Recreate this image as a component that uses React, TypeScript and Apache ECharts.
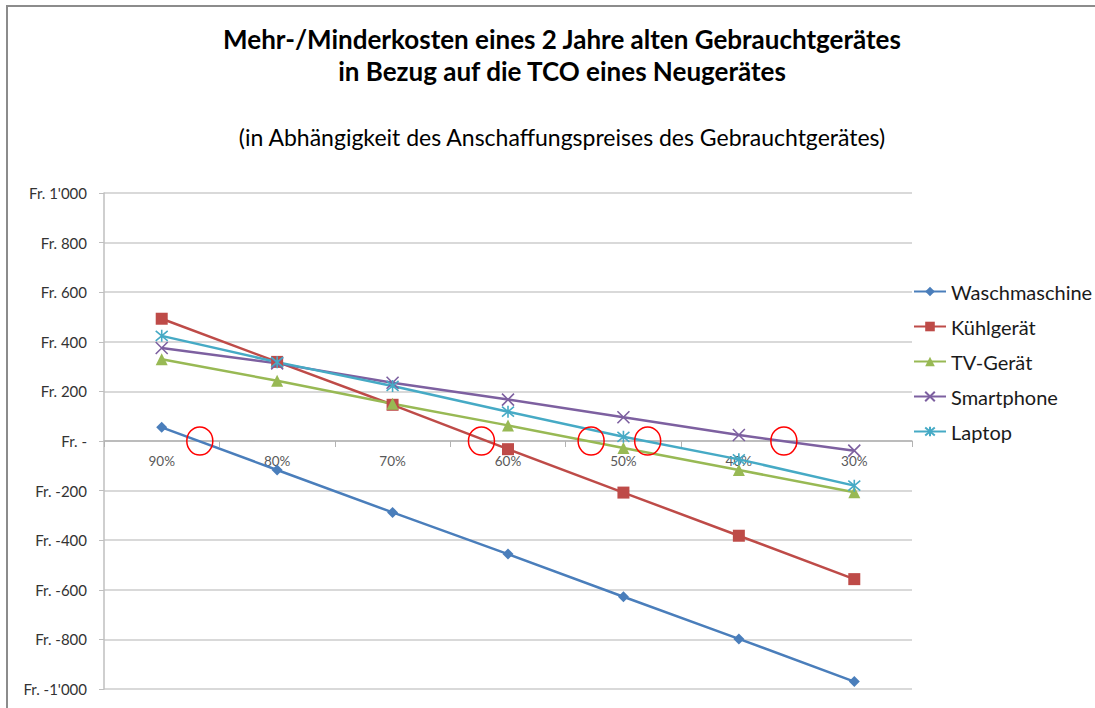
import React, { useEffect, useRef } from "react";
import * as echarts from "echarts";

const categories = ["90%", "80%", "70%", "60%", "50%", "40%", "30%"];
const waschmaschine = [55, -117, -288, -456, -628, -798, -970];
const kuehlgeraet = [493, 319, 146, -33, -208, -382, -557];
const tvGeraet = [330, 243, 150, 63, -28, -117, -207];
const smartphone = [375, 313, 235, 167, 96, 24, -39];
const laptop = [424, 318, 222, 118, 17, -74, -180];
// red circle annotations: position in category-index units, value
const circleX = [0.33, 2.77, 3.72, 4.21, 5.39];
const circleY = [0, 0, 0, 0, 0];

const FONT = "Lato, 'Noto Sans', sans-serif";
const GRID_H = 496;

function fmt(v: number): string {
  if (v === 0) return "Fr. -";
  const a = Math.abs(v);
  const s = a >= 1000 ? Math.floor(a / 1000) + "'" + String(a % 1000).padStart(3, "0") : String(a);
  return "Fr. " + (v < 0 ? "-" : "") + s;
}

export default function App() {
  const ref = useRef<HTMLDivElement>(null);
  useEffect(() => {
    if (!ref.current) return;
    const chart = echarts.init(ref.current, null, { renderer: "svg" });
    const mk = (name: string, data: number[], color: string, symbol: string, size: number, stroke = false) => ({
      name,
      type: "line",
      data,
      symbol,
      symbolSize: size,
      lineStyle: { color, width: 2.5 },
      itemStyle: stroke
        ? { color: "rgba(0,0,0,0)", borderColor: color, borderWidth: 1.6 }
        : { color, borderColor: color, borderWidth: 0 },
      emphasis: { disabled: true },
      z: 3,
    });
    chart.setOption({
      animation: false,
      backgroundColor: "#fff",
      title: [
        {
          text: "Mehr-/Minderkosten eines 2 Jahre alten Gebrauchtgerätes\nin Bezug auf die TCO eines Neugerätes",
          left: 557,
          top: 18,
          textAlign: "center",
          textStyle: { fontFamily: FONT, fontSize: 26, fontWeight: "bold", color: "#000", lineHeight: 32 },
        },
        {
          text: "(in Abhängigkeit des Anschaffungspreises des Gebrauchtgerätes)",
          left: 557,
          top: 120,
          textAlign: "center",
          textStyle: { fontFamily: FONT, fontSize: 23, fontWeight: "normal", color: "#000" },
        },
      ],
      legend: {
        data: ["Waschmaschine", "Kühlgerät", "TV-Gerät", "Smartphone", "Laptop"],
        orient: "vertical",
        left: 908,
        top: 275,
        itemWidth: 32,
        itemHeight: 12,
        itemGap: 12,
        textStyle: { fontFamily: FONT, fontSize: 20, color: "#1a1a1a", lineHeight: 23 },
      },
      grid: { left: 104, right: 183, top: 193, height: GRID_H, containLabel: false },
      xAxis: {
        type: "category",
        data: categories,
        boundaryGap: true,
        position: "bottom",
        offset: -GRID_H / 2,
        axisLine: { onZero: false, lineStyle: { color: "#b3b3b3", width: 1.5 } },
        axisTick: { show: true, length: 6, inside: false, lineStyle: { color: "#b3b3b3" } },
        axisLabel: { fontFamily: FONT, fontSize: 13.5, color: "#595959", margin: 13 },
        splitLine: { show: false },
      },
      yAxis: {
        type: "value",
        min: -1000,
        max: 1000,
        interval: 200,
        axisLine: { show: true, onZero: false, lineStyle: { color: "#bfbfbf", width: 1.5 } },
        axisTick: { show: true, length: 5, lineStyle: { color: "#bfbfbf" } },
        axisLabel: {
          fontFamily: FONT,
          fontSize: 15,
          color: "#333",
          margin: 17,
          formatter: (v: number) => fmt(v),
        },
        splitLine: { show: true, lineStyle: { color: "#d9d9d9", width: 2 } },
      },
      series: [
        mk("Waschmaschine", waschmaschine, "#4a7ebb", "diamond", 11),
        mk("Kühlgerät", kuehlgeraet, "#be4b48", "rect", 12),
        mk("TV-Gerät", tvGeraet, "#98b954", "triangle", 12),
        mk("Smartphone", smartphone, "#7d60a0", "path://M0,0L10,10M10,0L0,10", 12, true),
        mk("Laptop", laptop, "#46aac5", "path://M0,0L10,10M10,0L0,10M5,-1L5,11", 12, true),
        {
          name: "Markierung",
          type: "custom",
          dimensions: ["cat", "frac", "val"],
          encode: { x: 0, y: 2 },
          data: circleX.map((x, i) => [Math.floor(x), x - Math.floor(x), circleY[i]]),
          silent: true,
          z: 4,
          renderItem: (params: any, api: any) => {
            const c = api.value(0);
            const f = api.value(1);
            const v = api.value(2);
            const p0 = api.coord([c, v]);
            const p1 = api.coord([c + 1, v]);
            const cx = p0[0] + f * (p1[0] - p0[0]);
            return {
              type: "ellipse",
              shape: { cx, cy: p0[1], rx: 13, ry: 14 },
              style: { fill: "none", stroke: "#ff0000", lineWidth: 1.5 },
            };
          },
        },
      ],
      graphic: [
        {
          type: "rect",
          shape: { x: 7, y: 6, width: 1200, height: 800 },
          style: { fill: "none", stroke: "#8c8c8c", lineWidth: 2 },
          silent: true,
          z: -1,
        },
      ],
    });
    return () => chart.dispose();
  }, []);
  return <div ref={ref} style={{ position: "fixed", left: 0, top: 0, width: 1095, height: 708 }} />;
}
